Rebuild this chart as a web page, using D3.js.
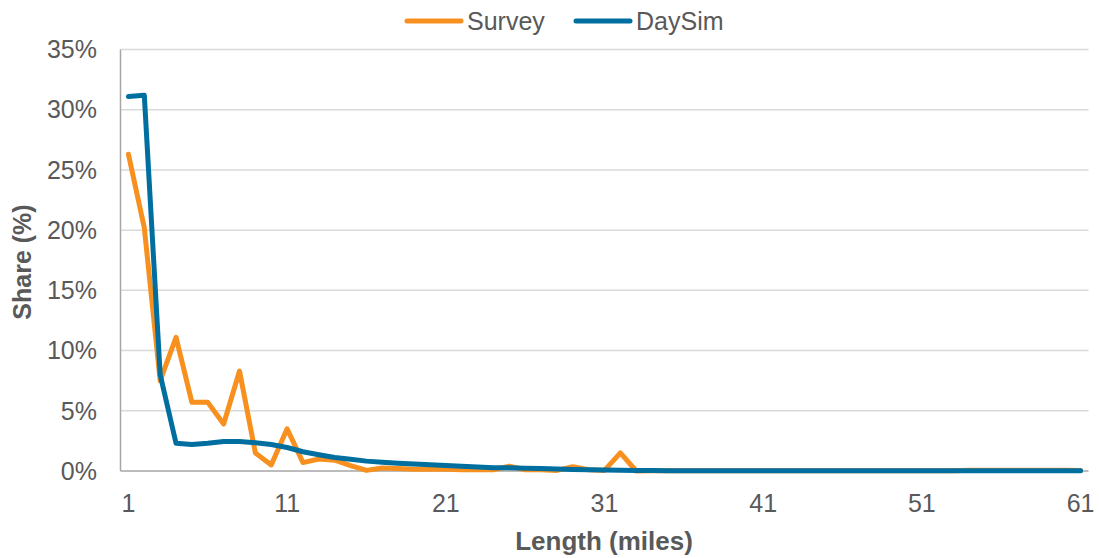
<!DOCTYPE html>
<html>
<head>
<meta charset="utf-8">
<script src="https://cdn.jsdelivr.net/npm/d3@7"></script>
<style>
  html, body { margin: 0; padding: 0; background: #fff; }
  svg { display: block; font-family: "Liberation Sans", Arial, sans-serif; }
</style>
</head>
<body>
<svg id="chart" width="1099" height="558"></svg>
<script>
const categories = d3.range(1, 62);
const surveyValues = [
  26.3, 20.2, 7.5, 11.1, 5.7, 5.7, 3.9, 8.3, 1.5, 0.5,
  3.5, 0.7, 1.0, 0.9, 0.45, 0.05, 0.25, 0.2, 0.15, 0.15,
  0.15, 0.1, 0.1, 0.1, 0.4, 0.1, 0.1, 0.05, 0.35, 0.1,
  0.05, 1.5, 0.0, 0.02, 0.02, 0.02, 0.02, 0.02, 0.02, 0.02,
  0.02, 0.02, 0.02, 0.02, 0.02, 0.02, 0.02, 0.02, 0.02, 0.02,
  0.02, 0.02, 0.03, 0.06, 0.06, 0.06, 0.06, 0.06, 0.06, 0.06,
  0.05
];
const daysimValues = [
  31.1, 31.2, 8.0, 2.3, 2.2, 2.3, 2.45, 2.45, 2.35, 2.2,
  1.95, 1.6, 1.35, 1.12, 0.97, 0.82, 0.72, 0.64, 0.58, 0.52,
  0.45, 0.4, 0.33, 0.28, 0.26, 0.23, 0.2, 0.16, 0.13, 0.1,
  0.08, 0.06, 0.05, 0.04, 0.03, 0.03, 0.03, 0.03, 0.03, 0.03,
  0.03, 0.03, 0.03, 0.03, 0.03, 0.03, 0.03, 0.03, 0.03, 0.03,
  0.03, 0.03, 0.03, 0.03, 0.03, 0.03, 0.03, 0.03, 0.03, 0.03,
  0.03
];
const xTickLabels = [1, 11, 21, 31, 41, 51, 61];
const yTicks = [0, 5, 10, 15, 20, 25, 30, 35];
const seriesNames = ["Survey", "DaySim"];
const seriesColors = ["#F7901E", "#006FA0"];

const svg = d3.select("#chart");
const plotLeft = 120.5, plotRight = 1088.5, plotTop = 49.5, plotBottom = 471;

const x = d3.scalePoint().domain(categories).range([plotLeft, plotRight]).padding(0.5);
const y = d3.scaleLinear().domain([0, 35]).range([plotBottom, plotTop]);

// gridlines
svg.append("g").selectAll("line").data(yTicks.filter(d => d > 0)).join("line")
  .attr("x1", plotLeft).attr("x2", plotRight)
  .attr("y1", d => y(d)).attr("y2", d => y(d))
  .attr("stroke", "#d9d9d9").attr("stroke-width", 1.5);

// axes lines
svg.append("line").attr("x1", plotLeft).attr("x2", plotLeft).attr("y1", plotTop).attr("y2", plotBottom)
  .attr("stroke", "#a6a6a6").attr("stroke-width", 1.5);
svg.append("line").attr("x1", plotLeft).attr("x2", plotRight).attr("y1", plotBottom).attr("y2", plotBottom)
  .attr("stroke", "#a6a6a6").attr("stroke-width", 1.5);

// y tick labels
svg.append("g").selectAll("text").data(yTicks).join("text")
  .attr("x", 97).attr("y", d => y(d)).attr("dy", "0.35em")
  .attr("text-anchor", "end").attr("font-size", 25).attr("fill", "#595959")
  .text(d => d + "%");

// x tick labels
svg.append("g").selectAll("text").data(xTickLabels).join("text")
  .attr("x", d => x(d)).attr("y", 512)
  .attr("text-anchor", "middle").attr("font-size", 25).attr("fill", "#595959")
  .text(d => d);

// axis titles
svg.append("text").attr("x", 604).attr("y", 550).attr("text-anchor", "middle")
  .attr("font-size", 26).attr("font-weight", "bold").attr("fill", "#595959")
  .text("Length (miles)");
svg.append("text").attr("transform", "translate(31,262) rotate(-90)").attr("text-anchor", "middle")
  .attr("font-size", 25).attr("font-weight", "bold").attr("fill", "#595959")
  .text("Share (%)");

// lines
const line = d3.line().x((d, i) => x(categories[i])).y(d => y(d));
[surveyValues, daysimValues].forEach((vals, k) => {
  svg.append("path").datum(vals).attr("d", line)
    .attr("fill", "none").attr("stroke", seriesColors[k]).attr("stroke-width", 5)
    .attr("stroke-linejoin", "round").attr("stroke-linecap", "round");
});

// legend
const legendX = [407, 576];
seriesNames.forEach((name, k) => {
  const g = svg.append("g").attr("transform", `translate(${legendX[k]},21)`);
  g.append("line").attr("x1", 0).attr("x2", 54).attr("y1", 0).attr("y2", 0)
    .attr("stroke", seriesColors[k]).attr("stroke-width", 5).attr("stroke-linecap", "round");
  g.append("text").attr("x", 60).attr("y", 9)
    .attr("font-size", 25).attr("fill", "#595959").text(name);
});
</script>
</body>
</html>
